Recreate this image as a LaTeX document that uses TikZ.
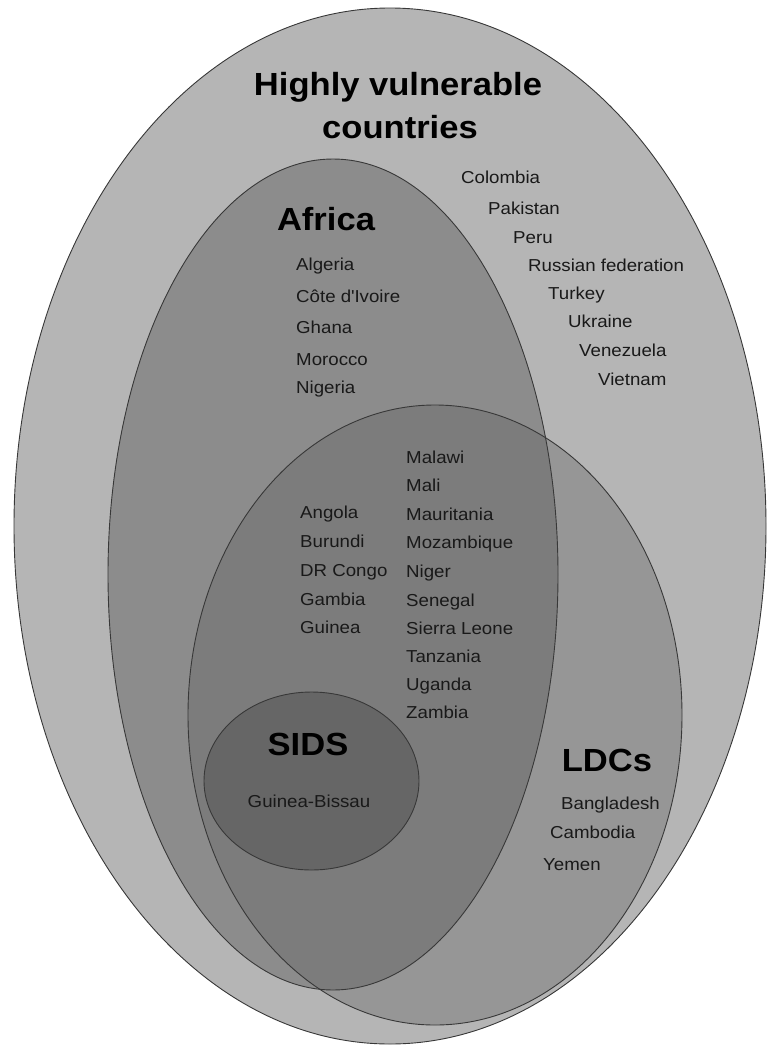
\documentclass[tikz,border=0pt]{standalone}
\usepackage{fontspec}
\setmainfont{Liberation Sans}[FakeStretch=1.08]
\definecolor{outerfill}{gray}{0.71}
\definecolor{africafill}{gray}{0.55}
\definecolor{ldcfill}{gray}{0.39}
\definecolor{sidsfill}{gray}{0.40}
\definecolor{edge}{gray}{0.22}
\definecolor{txt}{gray}{0.10}
\tikzset{
  region/.style={draw=edge, line width=0.9pt},
  head/.style={font=\fontsize{32}{43}\selectfont\bfseries, text=black, inner sep=0pt, anchor=base},
  item/.style={font=\fontsize{17.3}{20}\selectfont, text=txt, anchor=base west, inner sep=0pt},
}
\begin{document}
\begin{tikzpicture}[x=1pt,y=-1pt]
\useasboundingbox (0,0) rectangle (766,1047);
% outer
\fill[outerfill] (390,526) ellipse [x radius=376, y radius=518];
\draw[region] (390,526) ellipse [x radius=376, y radius=518];
% Africa
\fill[africafill] (333,574.5) ellipse [x radius=225, y radius=415.5];
% LDC translucent
\fill[ldcfill, fill opacity=0.37] (435,715) ellipse [x radius=247, y radius=310];
\draw[region] (333,574.5) ellipse [x radius=225, y radius=415.5];
\draw[region] (435,715) ellipse [x radius=247, y radius=310];
% SIDS
\fill[sidsfill] (311.5,781) ellipse [x radius=107.5, y radius=89];
\draw[region] (311.5,781) ellipse [x radius=107.5, y radius=89];

% headings (base anchors)
\node[head] (hv) at (398,95) {Highly vulnerable};
\node[head] (hv2) at (400,138) {countries};
\node[head] (af) at (326,230) {Africa};
\node[head] (sids) at (308,755) {SIDS};
\node[head] (ldc) at (607,771) {LDCs};

% outer list
\node[item] (c1) at (461,183) {Colombia};
\node[item] (c2) at (488,214) {Pakistan};
\node[item] (c3) at (513,243) {Peru};
\node[item] (c4) at (528,271) {Russian federation};
\node[item] (c5) at (548,299) {Turkey};
\node[item] (c6) at (568,327) {Ukraine};
\node[item] (c7) at (579,356) {Venezuela};
\node[item] (c8) at (598,385) {Vietnam};

% Africa list
\node[item] (a1) at (296,270) {Algeria};
\node[item] (a2) at (296,302) {Côte d\textquotesingle Ivoire};
\node[item] (a3) at (296,333) {Ghana};
\node[item] (a4) at (296,365) {Morocco};
\node[item] (a5) at (296,393) {Nigeria};

% intersection left
\node[item] (b1) at (300,518) {Angola};
\node[item] (b2) at (300,547) {Burundi};
\node[item] (b3) at (300,576) {DR Congo};
\node[item] (b4) at (300,605) {Gambia};
\node[item] (b5) at (300,633) {Guinea};

% intersection right
\node[item] (m1) at (406,463) {Malawi};
\node[item] (m2) at (406,491) {Mali};
\node[item] (m3) at (406,520) {Mauritania};
\node[item] (m4) at (406,548) {Mozambique};
\node[item] (m5) at (406,577) {Niger};
\node[item] (m6) at (406,606) {Senegal};
\node[item] (m7) at (406,634) {Sierra Leone};
\node[item] (m8) at (406,662) {Tanzania};
\node[item] (m9) at (406,690) {Uganda};
\node[item] (m10) at (406,718) {Zambia};

% SIDS
\node[item, anchor=base] (gb) at (309,807) {Guinea-Bissau};

% LDC list
\node[item] (l1) at (561,809) {Bangladesh};
\node[item] (l2) at (550,838) {Cambodia};
\node[item] (l3) at (543,870) {Yemen};
\end{tikzpicture}
\end{document}
